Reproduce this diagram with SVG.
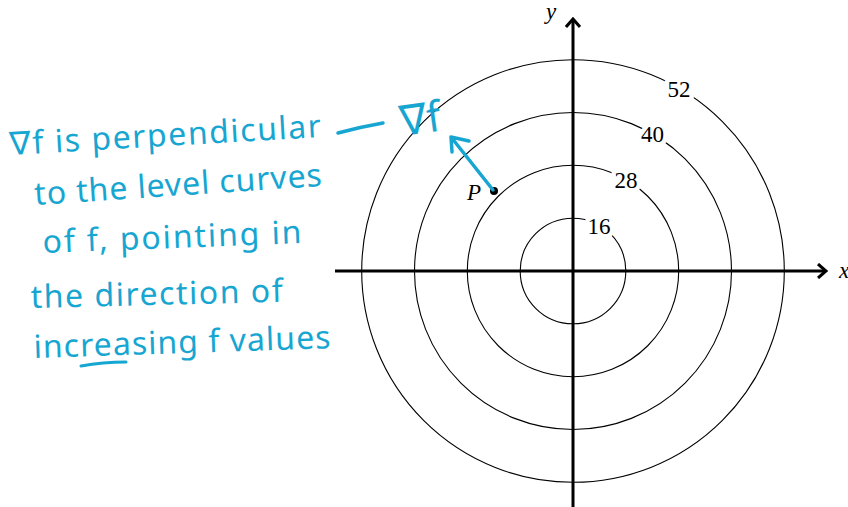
<svg xmlns="http://www.w3.org/2000/svg" width="848" height="507" viewBox="0 0 848 507">
<style>
.curve{fill:none;stroke:#000;stroke-width:1.1}
.axis{fill:none;stroke:#000;stroke-width:3}
.num{font-family:"Liberation Serif",serif;font-size:23px;fill:#000;text-anchor:middle;paint-order:stroke;stroke:#fff;stroke-width:9px;stroke-linejoin:round}
.var{font-family:"Liberation Serif",serif;font-style:italic;font-size:23px;fill:#000}
.hand{font-family:"Noto Sans","DejaVu Sans",sans-serif;font-size:32px;fill:#17a6d1}
.ink{fill:none;stroke:#17a6d1;stroke-width:3.5;stroke-linecap:round;stroke-linejoin:round}
</style>
<defs>
<marker id="axhead" viewBox="0 0 12 16" refX="10" refY="8" markerWidth="12" markerHeight="16" markerUnits="userSpaceOnUse" orient="auto">
<path d="M2,1 L10,8 L2,15" fill="none" stroke="#000" stroke-width="3"/>
</marker>
</defs>
<g id="level-curves">
<g id="curve-16"><circle class="curve" cx="573" cy="271" r="52.8"/></g>
<g id="curve-28"><circle class="curve" cx="573" cy="271" r="105.7"/></g>
<g id="curve-40"><circle class="curve" cx="573" cy="271" r="158.5"/></g>
<g id="curve-52"><circle class="curve" cx="573" cy="271" r="211.3"/></g>
</g>
<g id="axes">
<g id="x-axis"><path class="axis" d="M335,271 H826" marker-end="url(#axhead)"/><text class="var" x="839" y="278">x</text></g>
<g id="y-axis"><path class="axis" d="M573,507 V19" marker-end="url(#axhead)"/><text class="var" x="546" y="19">y</text></g>
</g>
<g id="curve-labels">
<text class="num" x="679" y="97">52</text>
<text class="num" x="652.5" y="142">40</text>
<text class="num" x="626" y="188">28</text>
<text class="num" x="599" y="234">16</text>
</g>
<g id="point-P">
<circle cx="494" cy="191" r="4" fill="#000"/>
<text class="var" x="467" y="200">P</text>
</g>
<g id="connectors">
<path id="gradient-arrow" class="ink" d="M493,190 L451,137 M469,141 L451,137 L452,152"/>
<path id="annotation-dash" class="ink" d="M338,133 Q360,127 383,123"/>
</g>
<g id="annotation">
<text class="hand" x="10" y="155" textLength="312" lengthAdjust="spacing" transform="rotate(-3.3 10 155)">∇f is perpendicular</text>
<text class="hand" x="35" y="205" textLength="288" lengthAdjust="spacing" transform="rotate(-3.8 35 205)">to the level curves</text>
<text class="hand" x="43" y="253" textLength="259" lengthAdjust="spacing" transform="rotate(-2.2 43 253)">of f, pointing in</text>
<text class="hand" x="31" y="308" textLength="252" lengthAdjust="spacing" transform="rotate(-1.4 31 308)">the direction of</text>
<text class="hand" x="34" y="358" textLength="297" lengthAdjust="spacing" transform="rotate(-1.9 34 358)">increasing f values</text>
<path class="ink" d="M81,366 Q103,362 126,362" style="stroke-width:3"/>
</g>
<g id="gradient-label">
<text class="hand" x="402" y="136" textLength="41" lengthAdjust="spacingAndGlyphs" style="font-size:42px" transform="rotate(-8 402 136)">∇f</text>
</g>
</svg>
